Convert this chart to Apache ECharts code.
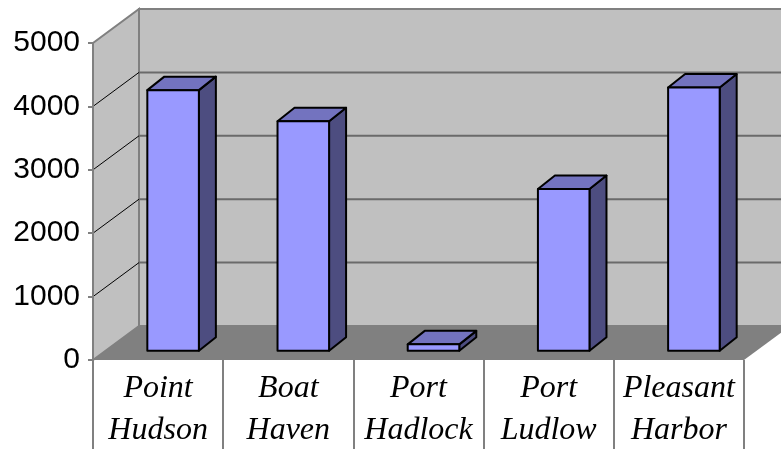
<!DOCTYPE html>
<html>
<head>
<meta charset="utf-8">
<script src="https://cdn.jsdelivr.net/npm/echarts@6/dist/echarts.min.js"></script>
<style>
  html, body { margin: 0; padding: 0; background: #fff; }
  #chart { width: 781px; height: 449px; }
</style>
</head>
<body>
<div id="chart"></div>
<script>
// data
var categories = ['Point Hudson', 'Boat Haven', 'Port Hadlock', 'Port Ludlow', 'Pleasant Harbor'];
var values = [4110, 3620, 100, 2550, 4150];
var yTicks = [0, 1000, 2000, 3000, 4000, 5000];

// depth of the 3d box (pixels)
var DX = 46, DY = -34;
// bar front / back plane offsets
var FX = 15, FY = -9.3, BX = 32, BY = -22.8;

var myChart = echarts.init(document.getElementById('chart'));

function renderWalls(params, api) {
  var cs = params.coordSys;
  var left = cs.x, right = cs.x + cs.width;
  var yb = api.coord([0, yTicks[0]])[1];
  var yt = api.coord([0, yTicks[yTicks.length - 1]])[1];
  var kids = [];
  // back wall
  kids.push({
    type: 'polygon',
    shape: { points: [[left + DX, yt + DY], [right + DX + 30, yt + DY], [right + DX + 30, yb + DY], [left + DX, yb + DY]] },
    style: { fill: '#c0c0c0', stroke: '#808080', lineWidth: 2 }
  });
  // side wall
  kids.push({
    type: 'polygon',
    shape: { points: [[left, yt], [left + DX, yt + DY], [left + DX, yb + DY], [left, yb]] },
    style: { fill: '#c0c0c0', stroke: '#808080', lineWidth: 2 }
  });
  // floor
  kids.push({
    type: 'polygon',
    shape: { points: [[left, yb], [left + DX, yb + DY], [right + DX, yb + DY], [right, yb]] },
    style: { fill: '#808080' }
  });
  // grid lines
  for (var i = 1; i < yTicks.length - 1; i++) {
    var y = api.coord([0, yTicks[i]])[1];
    kids.push({
      type: 'line',
      shape: { x1: left + DX, y1: y + DY, x2: right + DX + 30, y2: y + DY },
      style: { stroke: '#6a6a6a', lineWidth: 2 }
    });
    kids.push({
      type: 'line',
      shape: { x1: left, y1: y, x2: left + DX, y2: y + DY },
      style: { stroke: '#000', lineWidth: 1 }
    });
  }
  return { type: 'group', children: kids };
}

function renderBar(params, api) {
  var band = api.size([1, 0])[0];
  var hw = band * 0.198;
  var p0 = api.coord([api.value(0), 0]);
  var p1 = api.coord([api.value(0), api.value(1)]);
  var xl = p0[0] - hw, xr = p0[0] + hw;
  var yb = p0[1], yt = p1[1];
  var line = { stroke: '#000', lineWidth: 2, lineJoin: 'round' };
  return {
    type: 'group',
    children: [
      {
        type: 'polygon',
        shape: { points: [[xr + FX, yt + FY], [xr + BX, yt + BY], [xr + BX, yb + BY], [xr + FX, yb + FY]] },
        style: Object.assign({ fill: '#4d4d80' }, line)
      },
      {
        type: 'polygon',
        shape: { points: [[xl + FX, yt + FY], [xr + FX, yt + FY], [xr + BX, yt + BY], [xl + BX, yt + BY]] },
        style: Object.assign({ fill: '#7373bf' }, line)
      },
      {
        type: 'polygon',
        shape: { points: [[xl + FX, yt + FY], [xr + FX, yt + FY], [xr + FX, yb + FY], [xl + FX, yb + FY]] },
        style: Object.assign({ fill: '#9999ff' }, line)
      }
    ]
  };
}

myChart.setOption({
  animation: false,
  grid: { left: 93, right: 37, top: 43, bottom: 89, outerBoundsMode: 'none' },
  xAxis: {
    type: 'category',
    data: categories,
    axisLine: { show: false },
    axisTick: {
      show: true,
      interval: 0,
      length: 89,
      lineStyle: { color: '#808080', width: 2 }
    },
    axisLabel: {
      interval: 0,
      margin: 8,
      color: '#000',
      fontFamily: 'Liberation Serif',
      fontStyle: 'italic',
      fontSize: 32,
      lineHeight: 42,
      formatter: function (v) { return v.replace(' ', '\n'); }
    },
    splitLine: { show: false }
  },
  yAxis: {
    type: 'value',
    min: yTicks[0],
    max: yTicks[yTicks.length - 1],
    interval: 1000,
    axisLine: { show: true, lineStyle: { color: '#808080', width: 2 } },
    axisTick: { show: true, length: 5, lineStyle: { color: '#808080', width: 2 } },
    axisLabel: {
      margin: 13,
      color: '#000',
      fontFamily: 'Liberation Sans',
      fontSize: 30,
      formatter: function (v) { return String(v); }
    },
    splitLine: { show: false }
  },
  series: [
    {
      type: 'custom',
      z: -1,
      silent: true,
      renderItem: renderWalls,
      data: [[0, 0]]
    },
    {
      name: 'values',
      type: 'custom',
      renderItem: renderBar,
      data: values.map(function (v, i) { return [i, v]; })
    }
  ]
});

window.addEventListener('resize', function () {
  myChart.resize();
});
</script>
</body>
</html>
